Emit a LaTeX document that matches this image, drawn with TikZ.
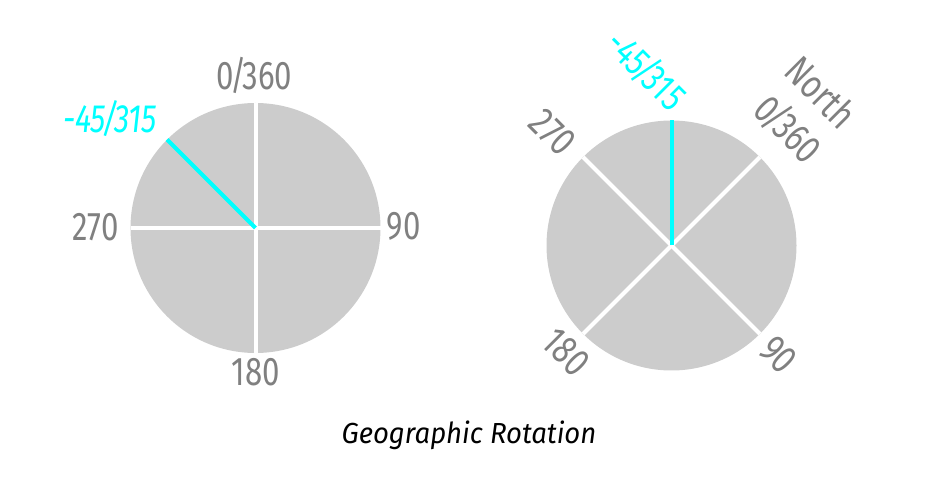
\documentclass[tikz,border=0pt]{standalone}
\usepackage{fontspec}
\usetikzlibrary{calc}
\setmainfont[FakeStretch=0.78]{Fira Sans}
\newfontfamily\titlefont[FakeStretch=0.95]{Fira Sans}
\definecolor{discgray}{HTML}{CCCCCC}
\definecolor{labgray}{HTML}{808080}
\definecolor{cyanline}{HTML}{00FFFF}
\newcommand{\degslash}{\kern-4pt/\kern-4pt}
\tikzset{
  disc/.style={fill=discgray},
  divider/.style={draw=white, line width=4pt},
  pointer/.style={draw=cyanline, line width=4pt},
  deg/.style={text=labgray, font=\fontsize{40}{42}\selectfont, inner sep=0pt, anchor=base},
  rdeg/.style={text=labgray, font=\fontsize{40}{42}\selectfont, inner sep=0pt, anchor=center, rotate=-45},
  cdeg/.style={text=cyanline, font=\fontsize{39.5}{41}\selectfont\itshape, inner sep=0pt, anchor=base},
  title/.style={text=black, font=\titlefont\fontsize{29}{31}\selectfont\itshape, inner sep=0pt, anchor=base}
}
\begin{document}
\begin{tikzpicture}[x=1pt,y=1pt]
\useasboundingbox (0,0) rectangle (930,-486);
% left disc
\coordinate (L) at (255.5,-228);
\fill[disc] (L) circle (125);
\draw[divider] ($(L)+(0,125)$) -- ($(L)+(0,-125)$);
\draw[divider] ($(L)+(-125,0)$) -- ($(L)+(125,0)$);
\coordinate (Lp) at ($(L)+(135:125)$);
\draw[pointer] (L) -- (Lp);
\node[deg] (l0) at (254.5,-90) {0\degslash360};
\node[deg] (l90) at (403.7,-240) {90};
\node[deg] (l180) at (256,-386) {180};
\node[deg] (l270) at (95.5,-240.5) {270};
\node[cdeg] (l315) at (110,-132.3) {-45\degslash315};
% right disc
\coordinate (R) at (671.5,-245.5);
\fill[disc] (R) circle (125);
\foreach \a in {45,135,225,315} {
  \draw[divider] (R) -- ($(R)+(\a:125)$);
}
\coordinate (Rp) at ($(R)+(90:125)$);
\draw[pointer] (R) -- (Rp);
\node[rdeg] (rnorth) at (821.5,-92) {North};
\node[rdeg] (r0) at (788.5,-129) {0\degslash360};
\node[rdeg] (r90) at (778.5,-355) {90};
\node[rdeg] (r180) at (566,-352) {180};
\node[rdeg] (r270) at (552.5,-132.5) {270};
\node[rdeg, text=cyanline, font=\fontsize{39}{41}\selectfont] (r315) at (646.5,-70) {-45\degslash315};
% title
\node[title] (t) at (469,-444) {Geographic Rotation};
\end{tikzpicture}
\end{document}
